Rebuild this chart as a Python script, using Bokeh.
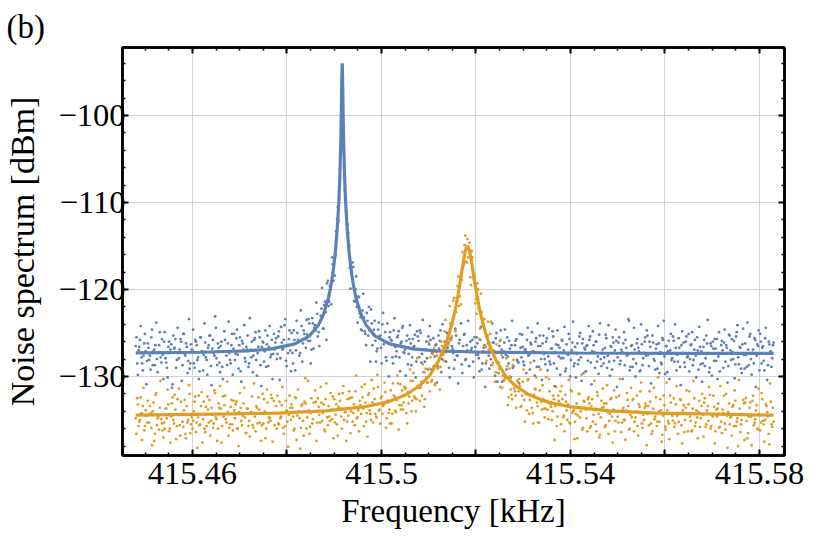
import numpy as np
from bokeh.plotting import figure
from bokeh.models import FixedTicker, LinearAxis, CustomJSTickFormatter, Range1d, Title
from bokeh.embed import file_html
from bokeh.resources import INLINE

# ---- analyser sweeps (kHz): two interleaved passes ----
sweep_a_start = 415.448
sweep_b_start = 415.44815
sweep_step = 0.0003

# ---- measured noise spectrum, blue trace (dBm) ----
blue_pts_a = [
    -126.5, -128.5, -127.0, -125.8, -127.8, -129.3, -126.2, -127.1, -128.2, -126.7,
    -127.6, -125.5, -128.7, -126.9, -126.4, -128.0, -127.2, -124.9, -128.4, -127.5,
    -126.0, -127.9, -129.0, -126.6, -127.3, -126.3, -130.9, -126.8, -125.7, -128.1,
    -127.3, -126.9, -126.0, -128.7, -125.1, -127.6, -126.6, -128.2, -129.1, -126.3,
    -127.0, -128.5, -125.8, -126.4, -127.8, -129.4, -125.5, -127.1, -127.5, -126.1,
    -128.1, -126.7, -125.3, -128.8, -126.8, -127.3, -123.1, -127.9, -126.2, -128.4,
    -126.5, -128.9, -127.1, -125.8, -127.6, -126.2, -127.3, -128.5, -125.1, -126.8,
    -128.1, -125.6, -127.5, -126.4, -129.4, -125.9, -126.9, -127.9, -126.6, -125.3,
    -128.5, -126.9, -126.0, -127.6, -125.6, -128.1, -127.3, -124.8, -128.7, -126.6,
    -126.1, -127.1, -128.9, -125.3, -126.6, -127.8, -125.8, -127.4, -126.9, -125.6,
    -127.4, -124.8, -127.9, -126.1, -126.8, -124.1, -128.2, -126.4, -125.7, -127.0,
    -125.0, -128.5, -125.8, -127.0, -125.0, -126.0, -127.3, -124.2, -126.2, -125.1,
    -126.7, -125.2, -123.4, -125.9, -126.9, -123.9, -124.4, -124.7, -122.8, -124.9,
    -123.8, -122.2, -124.5, -121.8, -122.6, -119.3, -121.9, -119.6, -121.7, -117.1,
    -116.7, -116.1, -111.9, -112.1, -106.1, -100.5, -97.0, -107.1, -109.2, -113.1,
    -113.5, -117.5, -117.6, -116.9, -121.3, -120.0, -122.0, -120.8, -122.7, -124.6,
    -122.4, -123.2, -125.1, -122.7, -125.3, -124.7, -122.3, -126.4, -124.6, -125.9,
    -127.1, -124.6, -125.4, -126.7, -124.0, -126.3, -124.9, -128.2, -126.1, -125.5,
    -125.8, -127.8, -124.7, -126.6, -127.1, -125.3, -127.8, -126.2, -124.4, -127.2,
    -126.9, -125.9, -128.6, -125.7, -126.2, -127.8, -126.6, -125.2, -128.3, -125.4,
    -127.8, -125.0, -127.4, -126.9, -128.3, -126.0, -129.2, -126.3, -125.8, -127.3,
    -125.6, -127.7, -126.3, -128.8, -126.8, -124.7, -128.0, -127.2, -126.0, -128.3,
    -126.7, -129.0, -125.8, -126.5, -127.3, -128.1, -125.3, -127.6, -126.2, -127.1,
    -128.6, -126.5, -125.1, -128.0, -127.0, -128.8, -126.0, -126.7, -128.3, -125.5,
    -127.5, -126.2, -127.9, -125.8, -129.2, -127.1, -126.4, -128.5, -125.3, -127.6,
    -126.6, -128.7, -126.1, -127.3, -125.6, -130.6, -129.6, -125.9, -126.9, -127.8,
    -126.1, -127.5, -125.5, -128.5, -126.8, -126.4, -129.0, -127.3, -125.9, -128.1,
    -128.4, -125.1, -127.8, -126.6, -128.7, -126.9, -125.8, -127.6, -129.2, -126.3,
    -127.1, -128.2, -126.0, -128.9, -126.5, -125.3, -128.0, -126.2, -127.4, -128.6,
    -125.6, -127.7, -128.3, -126.8, -124.8, -128.5, -127.2, -129.1, -126.4, -126.7,
    -127.9, -125.9, -127.0, -129.4, -126.3, -127.5, -125.7, -128.1, -126.1, -128.8,
    -126.6, -127.4, -128.6, -125.4, -127.8, -126.2, -129.6, -126.9, -126.5, -128.2,
    -125.8, -128.4, -127.1, -126.4, -129.0, -126.0, -127.7, -125.2, -128.0, -127.3,
    -128.5, -126.7, -125.6, -127.6, -128.3, -126.5, -129.2, -126.1, -127.0, -125.9,
    -127.8, -125.5, -128.2, -127.2, -126.2, -128.7, -126.7, -127.5, -123.6, -128.9,
    -126.4, -128.0, -126.9, -128.5, -125.7, -127.1, -129.3, -126.3, -127.9, -126.0,
    -127.6, -125.3, -128.8, -126.6, -127.4, -126.1, -128.2, -126.8, -129.1, -126.2,
    -127.2, -128.6, -125.8, -127.7, -126.5, -129.5, -125.9, -127.0, -128.1, -125.4,
    -128.3, -126.7, -127.5, -125.6, -128.9, -126.4, -127.3, -128.4, -126.0, -127.8,
    -125.1, -128.0, -126.3, -128.7, -126.9, -127.6, -125.5, -129.2, -126.6, -127.1,
    -128.5, -125.8, -127.9, -126.2, -127.4, -129.0, -126.5, -126.0, -128.2, -126.8,
    -125.7, -127.7, -129.4, -126.4, -127.0, -126.1, -128.3, -126.7, -128.8, -125.3,
    -128.1, -127.2, -125.9, -128.6, -124.9, -127.8, -126.6, -129.1, -126.3, -127.5,
    -126.2, -128.9, -126.9, -125.4, -128.0, -127.3, -128.5, -125.8, -127.6, -126.5,
    -129.3, -126.0, -126.7, -128.2, -125.6, -127.4, -128.7, -126.3, -127.1, -127.9,
    -126.1,
]
blue_pts_b = [
    -125.5, -129.8, -126.6, -124.2, -128.5, -127.6, -125.1, -130.9, -126.2, -128.1,
    -129.2, -124.6, -127.1, -128.7, -123.8, -129.5, -126.4, -127.8, -125.7, -130.3,
    -124.9, -128.4, -130.1, -126.0, -126.9, -131.3, -125.3, -126.7, -129.0, -124.4,
    -127.9, -125.7, -130.5, -125.1, -127.4, -126.2, -129.6, -123.4, -128.5, -126.9,
    -124.6, -129.0, -126.0, -128.1, -130.3, -125.5, -127.1, -129.3, -123.9, -127.8,
    -129.8, -126.4, -125.3, -131.0, -125.8, -127.6, -124.4, -128.7, -126.7, -129.5,
    -126.0, -130.3, -124.8, -127.1, -128.7, -123.7, -128.1, -126.4, -129.8, -125.1,
    -127.4, -124.6, -129.1, -125.5, -130.6, -126.2, -124.1, -128.3, -126.9, -128.9,
    -123.3, -127.8, -129.5, -125.8, -124.9, -129.9, -126.6, -125.5, -131.1, -126.0,
    -128.3, -124.7, -126.3, -128.8, -124.2, -127.5, -130.3, -125.1, -126.1, -128.0,
    -125.4, -130.4, -124.3, -126.9, -125.8, -123.4, -128.8, -127.3, -124.7, -129.4,
    -127.3, -124.7, -129.3, -123.6, -125.8, -127.6, -122.4, -128.3, -124.7, -125.7,
    -123.5, -125.9, -123.9, -128.5, -123.3, -126.8, -124.1, -121.5, -125.4, -126.5,
    -123.0, -119.8, -124.5, -121.4, -125.8, -119.0, -121.4, -119.6, -116.3, -119.0,
    -118.4, -113.3, -110.5, -109.6, -103.8, -95.5, -101.2, -108.6, -111.0, -112.5,
    -114.9, -119.9, -118.2, -117.4, -121.4, -118.5, -123.8, -120.9, -123.2, -124.7,
    -120.5, -124.8, -126.4, -123.6, -122.0, -128.3, -123.9, -125.2, -123.6, -128.3,
    -126.8, -123.8, -125.3, -128.5, -122.7, -126.0, -127.8, -123.9, -130.0, -124.9,
    -125.9, -128.5, -123.3, -127.7, -125.5, -124.8, -129.4, -126.0, -124.2, -127.3,
    -129.9, -125.3, -127.4, -124.1, -128.7, -125.7, -126.5, -130.1, -124.8, -125.9,
    -124.7, -128.4, -123.5, -129.5, -126.9, -127.9, -125.4, -124.2, -129.2, -127.3,
    -128.8, -126.4, -130.7, -125.3, -125.9, -129.5, -124.0, -128.2, -126.7, -125.0,
    -126.1, -130.1, -125.6, -126.8, -129.1, -124.5, -127.6, -130.8, -125.8, -123.9,
    -129.6, -125.2, -128.1, -126.4, -123.6, -128.8, -127.0, -125.8, -130.1, -126.6,
    -125.5, -127.5, -129.4, -124.3, -128.5, -126.7, -131.2, -125.3, -126.2, -129.1,
    -128.0, -123.9, -126.1, -129.9, -125.0, -128.4, -126.5, -124.7, -130.6, -127.1,
    -124.6, -129.2, -127.7, -125.9, -130.1, -123.6, -128.8, -126.4, -125.7, -128.3,
    -130.8, -126.7, -125.2, -128.3, -126.9, -129.6, -124.4, -127.5, -126.1, -124.9,
    -127.1, -129.9, -125.6, -123.9, -128.9, -126.5, -130.4, -125.3, -128.0, -126.0,
    -129.3, -124.5, -128.6, -126.8, -125.4, -131.1, -126.3, -124.7, -127.7, -129.8,
    -125.8, -127.9, -124.3, -129.1, -127.4, -125.1, -130.0, -127.0, -123.7, -128.5,
    -130.1, -126.2, -128.1, -125.0, -130.5, -125.7, -126.7, -129.4, -126.4, -124.2,
    -125.4, -130.9, -124.8, -127.2, -126.0, -128.3, -129.7, -123.9, -128.8, -126.9,
    -127.8, -125.2, -129.0, -124.1, -129.9, -126.6, -125.5, -128.2, -124.6, -131.2,
    -126.1, -128.6, -126.9, -130.3, -124.9, -125.8, -127.6, -123.4, -129.3, -126.5,
    -128.9, -124.4, -130.0, -126.2, -126.7, -129.4, -124.0, -128.7, -127.3, -125.5,
    -124.7, -127.5, -126.0, -130.8, -125.3, -128.0, -129.2, -126.3, -124.2, -129.6,
    -128.4, -125.6, -123.6, -129.7, -126.5, -127.1, -130.3, -125.1, -127.9, -125.9,
    -124.0, -129.3, -128.3, -126.7, -131.0, -124.8, -126.1, -128.9, -125.4, -127.7,
    -129.4, -126.4, -124.9, -128.1, -125.8, -130.1, -127.0, -124.3, -128.6, -130.6,
    -126.6, -128.8, -125.3, -123.5, -129.5, -126.2, -129.9, -126.8, -125.7, -128.2,
    -130.3, -124.9, -127.4, -125.9, -129.0, -124.6, -126.4, -130.7, -125.2, -127.0,
    -125.7, -128.0, -130.2, -125.4, -124.1, -128.6, -126.7, -129.6, -124.5, -129.1,
    -127.5, -123.8, -128.7, -125.1, -129.8, -126.9, -125.6, -131.2, -126.3, -124.7,
    -125.1, -128.5, -126.5, -129.3, -124.4, -130.4, -126.0, -127.2, -128.9, -126.4,
]

# ---- measured noise spectrum, orange trace (dBm) ----
orange_pts_a = [
    -134.8, -132.5, -135.7, -135.0, -134.2, -133.4, -136.2, -133.9, -135.3, -134.4,
    -133.4, -135.9, -134.0, -137.4, -132.1, -135.6, -134.6, -133.6, -134.9, -136.2,
    -135.3, -133.7, -134.8, -133.2, -136.0, -134.6, -132.4, -135.4, -133.8, -135.7,
    -134.4, -135.6, -132.9, -135.2, -133.9, -136.6, -133.4, -135.0, -132.0, -135.5,
    -136.0, -134.0, -132.3, -135.3, -134.7, -135.6, -133.4, -137.6, -132.9, -136.4,
    -135.7, -133.8, -132.7, -135.1, -134.4, -135.4, -131.9, -134.9, -136.0, -133.6,
    -133.7, -135.7, -134.6, -132.2, -135.3, -134.1, -135.9, -133.5, -135.5, -132.8,
    -134.8, -132.9, -136.0, -134.1, -133.6, -135.6, -133.1, -134.7, -136.5, -133.7,
    -135.1, -134.1, -132.3, -135.9, -134.6, -133.4, -135.4, -133.8, -134.3, -135.6,
    -135.4, -134.0, -136.0, -133.0, -134.7, -135.1, -132.5, -134.2, -135.6, -133.4,
    -132.2, -135.5, -134.8, -133.3, -135.9, -134.1, -132.8, -135.2, -134.4, -133.6,
    -133.2, -134.6, -136.0, -132.5, -134.5, -134.0, -138.3, -133.4, -135.1, -132.9,
    -133.1, -134.7, -133.9, -135.8, -132.5, -134.9, -134.0, -132.9, -135.3, -133.5,
    -135.3, -133.0, -134.2, -136.1, -132.6, -134.7, -133.4, -135.1, -133.8, -132.3,
    -132.6, -134.4, -135.5, -133.5, -132.8, -134.6, -131.9, -135.0, -134.1, -135.2,
    -134.5, -132.5, -134.0, -135.2, -133.2, -131.7, -134.8, -133.9, -132.8, -134.3,
    -132.4, -135.7, -133.0, -134.2, -132.1, -133.9, -135.0, -133.0, -131.4, -134.3,
    -134.7, -131.2, -133.8, -132.5, -134.3, -133.2, -131.8, -134.8, -132.8, -133.8,
    -131.6, -134.3, -132.2, -133.9, -132.7, -130.8, -133.3, -133.8, -131.6, -133.0,
    -131.4, -134.2, -131.8, -132.3, -130.5, -132.8, -129.6, -132.5, -132.6, -131.1,
    -131.3, -131.3, -132.2, -129.5, -132.6, -130.1, -130.7, -129.1, -127.8, -130.4,
    -128.9, -131.0, -127.2, -129.1, -128.0, -128.9, -126.5, -127.5, -124.8, -127.2,
    -125.4, -126.1, -123.9, -125.4, -121.3, -122.7, -122.6, -119.6, -121.9, -118.6,
    -118.9, -117.3, -114.9, -116.8, -114.2, -115.3, -118.6, -115.6, -118.6, -118.5,
    -121.1, -119.3, -122.2, -124.5, -122.6, -124.0, -123.4, -126.6, -125.4, -126.9,
    -125.1, -127.1, -128.4, -127.1, -129.5, -127.3, -128.4, -131.2, -127.5, -129.9,
    -130.4, -130.0, -128.8, -132.4, -130.0, -132.1, -128.7, -131.4, -132.2, -130.5,
    -131.7, -131.1, -133.4, -130.6, -132.7, -132.0, -133.9, -130.3, -132.7, -132.1,
    -134.2, -132.1, -131.5, -133.0, -135.3, -131.6, -132.9, -131.0, -133.7, -133.7,
    -132.8, -134.9, -131.7, -133.5, -134.0, -132.6, -133.4, -135.7, -132.2, -133.1,
    -135.5, -132.6, -134.5, -132.1, -133.9, -133.2, -135.3, -131.6, -134.2, -133.9,
    -135.2, -133.1, -134.5, -132.0, -134.0, -136.1, -132.8, -133.6, -134.8, -132.6,
    -133.1, -135.7, -132.6, -134.4, -133.7, -136.3, -132.2, -137.0, -134.7, -133.6,
    -133.5, -135.8, -133.1, -134.1, -135.1, -132.6, -134.6, -133.8, -136.3, -132.4,
    -134.6, -132.2, -134.0, -135.3, -133.6, -135.0, -133.9, -132.7, -136.1, -134.4,
    -134.7, -132.6, -135.2, -134.0, -135.7, -133.2, -131.7, -135.4, -134.4, -133.6,
    -133.4, -134.3, -135.6, -132.9, -136.6, -133.7, -134.9, -132.4, -135.2, -134.0,
    -132.6, -137.5, -134.5, -133.3, -136.1, -133.9, -135.4, -132.2, -134.3, -135.1,
    -135.8, -133.2, -134.5, -135.2, -132.6, -135.6, -133.9, -136.4, -133.6, -134.3,
    -133.2, -134.6, -136.3, -133.7, -132.5, -135.3, -134.7, -134.1, -135.8, -133.4,
    -134.4, -133.0, -135.8, -133.9, -135.1, -132.1, -135.7, -134.6, -133.5, -136.3,
    -134.6, -133.1, -135.8, -135.2, -133.8, -132.2, -136.1, -134.5, -134.1, -135.5,
    -134.6, -133.5, -135.7, -132.8, -135.2, -138.0, -133.7, -135.5, -134.3, -133.1,
    -133.0, -135.1, -136.5, -133.6, -134.6, -132.8, -135.6, -134.9, -133.3, -136.1,
    -134.3, -135.3, -132.6, -135.5, -135.0, -133.4, -134.6, -137.8, -132.9, -135.8,
    -135.2,
]
orange_pts_b = [
    -136.6, -133.2, -135.2, -132.4, -137.3, -131.3, -135.7, -134.5, -132.8, -135.3,
    -134.2, -137.9, -133.0, -136.6, -131.9, -134.8, -136.1, -130.5, -135.4, -137.0,
    -136.0, -133.7, -131.5, -136.3, -137.6, -133.1, -135.0, -132.1, -137.2, -132.6,
    -131.4, -136.8, -134.3, -135.8, -132.7, -137.1, -135.3, -131.0, -136.5, -134.7,
    -135.1, -132.9, -136.4, -138.2, -132.2, -135.5, -131.8, -134.9, -136.0, -133.5,
    -132.3, -135.3, -136.8, -133.6, -135.9, -131.6, -134.7, -137.4, -133.1, -131.1,
    -137.6, -132.3, -133.3, -134.9, -130.6, -136.8, -135.5, -132.7, -136.2, -133.9,
    -133.2, -136.0, -138.0, -131.9, -135.1, -134.5, -131.3, -136.5, -133.7, -135.7,
    -136.9, -134.1, -135.6, -130.8, -136.3, -133.6, -132.4, -135.3, -137.4, -132.0,
    -132.6, -137.1, -131.5, -135.3, -134.8, -132.1, -137.5, -132.8, -134.2, -136.0,
    -135.4, -132.9, -134.6, -131.2, -136.6, -135.7, -133.9, -138.1, -132.2, -135.0,
    -133.6, -136.2, -132.4, -137.3, -131.5, -134.8, -135.9, -133.2, -136.8, -130.2,
    -136.0, -130.5, -136.6, -134.2, -135.4, -133.0, -131.6, -137.4, -132.5, -134.4,
    -131.2, -135.1, -133.2, -136.3, -130.8, -135.6, -134.6, -131.9, -134.9, -137.1,
    -135.3, -133.2, -136.8, -132.0, -133.7, -136.0, -131.1, -134.1, -137.4, -132.6,
    -131.7, -136.5, -132.4, -134.2, -135.6, -129.9, -134.7, -136.3, -133.3, -131.2,
    -133.7, -130.9, -135.2, -136.9, -131.9, -134.3, -130.4, -135.3, -132.6, -134.6,
    -129.8, -133.9, -135.4, -132.3, -133.4, -130.7, -135.9, -132.8, -134.2, -135.4,
    -135.4, -130.8, -132.3, -134.1, -129.9, -136.1, -130.9, -133.3, -133.8, -131.2,
    -131.3, -135.4, -133.1, -129.2, -134.0, -130.5, -132.3, -134.0, -127.9, -131.3,
    -132.8, -130.6, -128.6, -133.5, -129.1, -130.7, -126.0, -131.7, -130.6, -127.4,
    -126.7, -130.8, -127.6, -129.0, -131.5, -126.0, -127.4, -128.2, -123.5, -126.5,
    -126.4, -121.9, -125.8, -124.0, -121.0, -124.8, -120.9, -118.5, -120.8, -121.7,
    -115.7, -117.1, -113.8, -116.9, -116.3, -114.6, -119.5, -116.3, -118.9, -121.6,
    -122.8, -120.0, -125.7, -120.5, -123.8, -123.4, -126.5, -128.2, -123.7, -126.1,
    -123.7, -128.7, -127.0, -130.6, -126.3, -129.6, -129.1, -125.8, -131.3, -130.5,
    -130.2, -127.9, -133.3, -129.1, -131.5, -132.6, -128.1, -131.7, -133.6, -130.6,
    -130.3, -133.5, -132.2, -129.2, -135.2, -132.0, -130.4, -134.3, -128.4, -133.6,
    -135.4, -131.4, -130.1, -133.4, -135.3, -129.2, -133.8, -132.6, -134.7, -130.1,
    -133.8, -130.3, -133.2, -135.0, -132.2, -137.3, -131.2, -134.6, -132.8, -131.7,
    -131.1, -134.7, -136.3, -132.9, -135.0, -130.4, -135.4, -131.7, -134.0, -137.2,
    -134.3, -137.1, -132.0, -134.7, -129.8, -135.9, -132.9, -133.8, -136.3, -132.4,
    -135.9, -133.4, -135.2, -130.5, -135.5, -131.8, -134.3, -136.7, -132.8, -131.4,
    -133.1, -135.6, -131.0, -136.6, -134.3, -132.5, -137.6, -131.6, -135.1, -134.0,
    -135.3, -130.3, -136.4, -133.9, -135.0, -137.3, -131.9, -133.4, -136.0, -131.3,
    -132.7, -136.3, -134.7, -132.2, -136.8, -133.5, -130.7, -135.9, -135.0, -133.1,
    -137.9, -133.4, -131.7, -135.4, -136.3, -131.3, -134.6, -135.7, -130.1, -135.2,
    -133.9, -136.7, -132.2, -135.8, -130.7, -135.1, -137.2, -133.0, -134.5, -132.5,
    -135.4, -131.1, -136.6, -134.3, -132.7, -137.7, -133.3, -135.0, -131.6, -136.3,
    -131.7, -135.1, -136.2, -130.5, -135.7, -133.9, -137.1, -132.8, -134.8, -132.0,
    -136.9, -132.5, -135.5, -133.4, -131.2, -136.0, -134.4, -132.2, -137.7, -133.8,
    -133.7, -135.9, -131.1, -136.5, -134.2, -135.4, -132.0, -138.2, -133.1, -134.7,
    -136.8, -133.3, -131.6, -135.7, -134.8, -130.4, -136.4, -135.0, -132.7, -137.3,
    -132.5, -137.1, -134.6, -133.0, -137.9, -132.2, -135.3, -133.9, -136.0, -131.4,
    -136.2, -131.9, -135.1, -137.5, -133.2, -134.1, -136.6, -130.8, -135.5, -133.6,
]

# ---- fitted curves ----
blue_fit_f = [415.4480, 415.4617, 415.4717, 415.4767, 415.4817, 415.4847, 415.4867,
              415.4877, 415.4887, 415.4892, 415.4897, 415.4902, 415.4907, 415.4910,
              415.4912, 415.4914, 415.4915, 415.4916, 415.4917, 415.4918, 415.4919,
              415.4920, 415.4922, 415.4924, 415.4927, 415.4932, 415.4937, 415.4942,
              415.4947, 415.4957, 415.4967, 415.4987, 415.5017, 415.5067, 415.5117,
              415.5217, 415.5417, 415.5617, 415.5830]
blue_fit_db = [-127.28, -127.21, -127.05, -126.83, -126.25, -125.36, -124.04,
               -122.90, -121.15, -119.89, -118.24, -115.98, -112.64, -109.73,
               -107.0, -102.9, -100.0, -96.4, -94.0, -96.4, -100.0,
               -102.9, -107.0, -109.73, -112.64, -115.98, -118.24, -119.89,
               -121.15, -122.90, -124.04, -125.36, -126.25, -126.83, -127.05,
               -127.21, -127.30, -127.33, -127.34]

orange_fit_f = [415.4480, 415.4682, 415.4782, 415.4882, 415.4962, 415.5012, 415.5052,
                415.5082, 415.5102, 415.5122, 415.5132, 415.5142, 415.5152, 415.5157,
                415.5162, 415.5166, 415.5170, 415.5174, 415.5178, 415.5182, 415.5186,
                415.5190, 415.5194, 415.5198, 415.5202, 415.5207, 415.5212, 415.5222,
                415.5232, 415.5242, 415.5262, 415.5282, 415.5312, 415.5352, 415.5402,
                415.5482, 415.5582, 415.5682, 415.5830]
orange_fit_db = [-134.45, -134.3, -134.2, -133.95, -133.5, -132.95, -132.1,
                 -131.0, -129.9, -128.07, -126.86, -125.32, -123.31, -122.07,
                 -120.64, -119.35, -117.96, -116.57, -115.45, -115.0, -115.45,
                 -116.57, -117.96, -119.35, -120.64, -122.07, -123.31, -125.32,
                 -126.86, -128.07, -129.9, -131.0, -132.1, -132.95, -133.5,
                 -133.95, -134.2, -134.3, -134.45]

# ---- axes ----
x_major = [415.46, 415.48, 415.50, 415.52, 415.54, 415.56, 415.58]
x_labeled = [415.46, 415.50, 415.54, 415.58]
x_labels = ["415.46", "415.5", "415.54", "415.58"]
x_minor_step = 0.005
y_major = [-130, -120, -110, -100]
y_labels = ["\u2212130", "\u2212120", "\u2212110", "\u2212100"]
y_minor_step = 2
x_title = "Frequency [kHz]"
y_title = "Noise spectrum [dBm]"
panel_tag = "(b)"

BLUE = "#5E81B5"
ORANGE = "#E19C24"
FONT = "Liberation Serif"

x_lo, x_hi = 415.4452, 415.5853
y_lo, y_hi = -139.08, -92.18

blue_f_a = sweep_a_start + sweep_step * np.arange(len(blue_pts_a))
blue_f_b = sweep_b_start + sweep_step * np.arange(len(blue_pts_b))
orange_f_a = sweep_a_start + sweep_step * np.arange(len(orange_pts_a))
orange_f_b = sweep_b_start + sweep_step * np.arange(len(orange_pts_b))

p = figure(width=826, height=543, output_backend="svg", toolbar_location=None,
           x_range=Range1d(x_lo, x_hi), y_range=Range1d(y_lo, y_hi),
           x_axis_location=None, y_axis_location=None,
           min_border_left=122, min_border_right=42,
           min_border_top=47, min_border_bottom=88)
p.background_fill_color = "white"
p.border_fill_color = "white"
p.outline_line_color = "black"
p.outline_line_width = 2.5

x_minor = [round(415.445 + x_minor_step * k, 4) for k in range(29)]
y_minor = [-140 + y_minor_step * k for k in range(26)]
x_ticker = FixedTicker(ticks=x_major, minor_ticks=x_minor)
y_ticker = FixedTicker(ticks=y_major, minor_ticks=y_minor)

lab_code = ("for (let i = 0; i < vals.length; i++) {"
            " if (Math.abs(tick - vals[i]) < 1e-6) return labs[i]; }"
            " return '';")
x_fmt = CustomJSTickFormatter(args=dict(vals=x_labeled, labs=x_labels), code=lab_code)
y_fmt = CustomJSTickFormatter(args=dict(vals=y_major, labs=y_labels), code=lab_code)
blank_fmt = CustomJSTickFormatter(code="return '';")


def style_axis(ax, labels=True):
    ax.axis_line_color = "black"
    ax.axis_line_width = 2.5
    ax.major_tick_in = 6
    ax.major_tick_out = 0
    ax.minor_tick_in = 3
    ax.minor_tick_out = 0
    ax.major_tick_line_color = "black"
    ax.minor_tick_line_color = "black"
    ax.major_tick_line_width = 2
    ax.minor_tick_line_width = 1.5
    ax.major_label_text_font = FONT
    ax.major_label_text_font_size = "32.5px" if labels else "1px"
    ax.major_label_text_color = "black"
    ax.axis_label_text_font = FONT
    ax.axis_label_text_font_style = "normal"
    ax.axis_label_text_color = "black"
    return ax


bottom = style_axis(LinearAxis(ticker=x_ticker, formatter=x_fmt))
bottom.major_label_standoff = 7
left = style_axis(LinearAxis(ticker=y_ticker, formatter=y_fmt, axis_label=y_title))
left.major_label_standoff = -3
left.axis_label_standoff = 14
left.axis_label_text_font_size = "34px"
top = style_axis(LinearAxis(ticker=x_ticker, formatter=blank_fmt), labels=False)
top.major_label_standoff = 0
right = style_axis(LinearAxis(ticker=y_ticker, formatter=blank_fmt), labels=False)
right.major_label_standoff = 0

p.add_layout(bottom, "below")
p.add_layout(left, "left")
p.add_layout(top, "above")
p.add_layout(right, "right")

# x-axis title as a side title (tight text box)
p.add_layout(Title(text=x_title, align="center", text_font=FONT, text_font_size="33px",
                   text_font_style="normal", text_color="black", standoff=8), "below")

p.xgrid.ticker = FixedTicker(ticks=x_major)
p.ygrid.ticker = FixedTicker(ticks=y_major)
for g in (p.xgrid, p.ygrid):
    g.grid_line_color = "#d2d2d2"
    g.grid_line_width = 1

for fx, vy, col in ((blue_f_a, blue_pts_a, BLUE), (blue_f_b, blue_pts_b, BLUE),
                    (orange_f_a, orange_pts_a, ORANGE), (orange_f_b, orange_pts_b, ORANGE)):
    p.scatter(fx, vy, marker="circle", size=2.8, fill_color=col, line_color=None)
p.line(blue_fit_f, blue_fit_db, line_color=BLUE, line_width=3.2)
p.line(orange_fit_f, orange_fit_db, line_color=ORANGE, line_width=3.2)

# panel tag drawn as the plot title, pulled to the top-left corner
p.title.text = panel_tag
p.title.text_font = FONT
p.title.text_font_size = "33px"
p.title.text_font_style = "normal"
p.title.text_color = "black"
p.title.align = "left"
p.title.offset = -116
p.title.standoff = 5

open("out.html", "w").write(file_html(p, INLINE))
